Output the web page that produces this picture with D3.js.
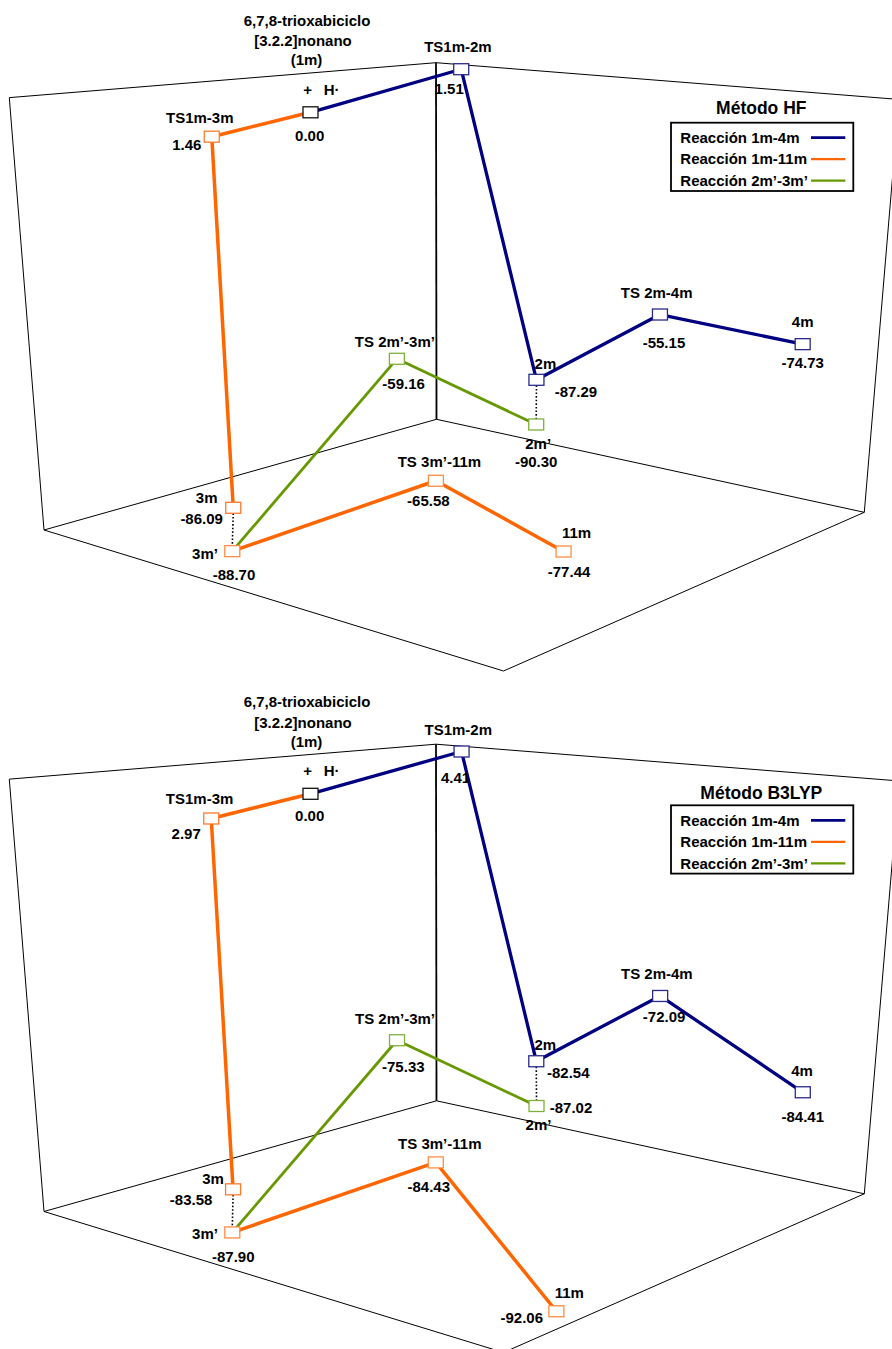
<!DOCTYPE html>
<html>
<head>
<meta charset="utf-8">
<script src="https://cdn.jsdelivr.net/npm/d3@7"></script>
<style>
  html, body { margin: 0; padding: 0; background: #fff; }
  svg { display: block; }
  text { font-family: Arial, "Liberation Sans", sans-serif; font-weight: bold; fill: #000; }
</style>
</head>
<body>
<div id="chart"></div>
<script>
// ---------------------------------------------------------------------------
// Data: relative energies (kcal/mol) of the species on the potential surface
// ---------------------------------------------------------------------------
const species = ["1m", "TS1m-2m", "2m", "TS 2m-4m", "4m", "TS1m-3m", "3m", "3m’",
                 "TS 3m’-11m", "11m", "TS 2m’-3m’", "2m’"];

const hfEnergy    = [0.00, 1.51, -87.29, -55.15, -74.73, 1.46, -86.09, -88.70, -65.58, -77.44, -59.16, -90.30];
const b3lypEnergy = [0.00, 4.41, -82.54, -72.09, -84.41, 2.97, -83.58, -87.90, -84.43, -92.06, -75.33, -87.02];

// Placement of each species on the floor of the 3-D box
// (depth: back corner -> left wall, run: back corner -> right wall)
const hfDepth    = [0.576, -0.155, -0.231, -0.040, -0.555, 0.988, 0.845, 0.966, 0.883, 0.822, 0.470, -0.001];
const hfRun      = [0.231, -0.069,  0.077,  0.518,  0.524, 0.441, 0.298, 0.423, 0.773, 0.964, 0.321,  0.260];
const b3lypDepth = [0.576,  0.052, -0.119, -0.534, -0.302, 1.055, 0.885, 0.977, 0.538, 0.866, 0.093,  0.069];
const b3lypRun   = [0.231,  0.109,  0.165,  0.176,  0.684, 0.513, 0.341, 0.435, 0.470, 0.988, -0.023, 0.316];

// Reaction paths
const seriesNames = ["Reacción 1m-4m", "Reacción 1m-11m", "Reacción 2m’-3m’"];
const pathsBlue   = [["1m", "TS1m-2m", "2m", "TS 2m-4m", "4m"]];
const pathsOrange = [["1m", "TS1m-3m", "3m"], ["3m’", "TS 3m’-11m", "11m"]];
const pathsGreen  = [["3m’", "TS 2m’-3m’", "2m’"]];
const linkedPairs = [["2m", "2m’"], ["3m", "3m’"]];

const methods = ["Método HF", "Método B3LYP"];
const reactantTitle = ["6,7,8-trioxabiciclo", "[3.2.2]nonano", "(1m)"];

// ---------------------------------------------------------------------------
// Styles
// ---------------------------------------------------------------------------
const seriesColor = ["#000080", "#FF6600", "#669900"];
const seriesWidth = [3.3, 3.5, 2.8];
const legendWidth = [2.7, 2.3, 2.3];
const markerStroke = {
  "1m": "#111111",
  "TS1m-2m": "#2A2A8C", "2m": "#2A2A8C", "TS 2m-4m": "#2A2A8C", "4m": "#2A2A8C",
  "TS1m-3m": "#FF7A2A", "3m": "#FF7A2A", "3m’": "#FF8C45", "TS 3m’-11m": "#FF8C45", "11m": "#FF8C45",
  "TS 2m’-3m’": "#7FB03A", "2m’": "#7FB03A"
};

// Perspective camera of the box (world: depth X, height Y, run Z, each 0..1)
const cam = { a: -400.44, q: -29.05, b: 305.02, c: 436.5,
              d: 15.02, s: -360.71, e: 20.22, f: 419.3,
              g: -0.18053, r: -0.06548, h: -0.14206 };
function project(X, Y, Z) {
  const w = cam.g * X + cam.r * Y + cam.h * Z + 1;
  return [(cam.a * X + cam.q * Y + cam.b * Z + cam.c) / w,
          (cam.d * X + cam.s * Y + cam.e * Z + cam.f) / w];
}

// Scales from data space into the box
const yScale = d3.scaleLinear().domain([-95, 5]).range([0, 1]);
const xScale = d3.scaleLinear().domain([0, 1]).range([0, 1]);
const zScale = d3.scaleLinear().domain([0, 1]).range([0, 1]);

const fmt = d3.formatLocale({ decimal: ".", thousands: ",", grouping: [3], currency: ["", ""], minus: "-" }).format(".2f");

// Label placement relative to each marker [dx, dy]
const nameOffsets = [
  { "TS1m-2m": [-3.3, -22.5], "2m": [9, -16], "TS 2m-4m": [-3.3, -22.2], "4m": [0, -22.5],
    "TS1m-3m": [-12, -19.4], "3m": [-26.6, -10.5], "3m’": [-27.3, 2.3], "TS 3m’-11m": [3.5, -19.1],
    "11m": [13, -18.8], "TS 2m’-3m’": [-2, -17.1], "2m’": [2, 19.5] },
  { "TS1m-2m": [-3.3, -22], "2m": [9, -16], "TS 2m-4m": [-3.3, -22.7], "4m": [-0.7, -21.5],
    "TS1m-3m": [-11.6, -20], "3m": [-20, -10.7], "3m’": [-27.3, 1.6], "TS 3m’-11m": [4, -18.8],
    "11m": [13, -18], "TS 2m’-3m’": [-2, -21.7], "2m’": [2, 18.8] }
];
const valueOffsets = [
  { "1m": [-0.8, 23], "TS1m-2m": [-12, 20], "2m": [39.5, 12], "TS 2m-4m": [4, 28.2], "4m": [0, 19],
    "TS1m-3m": [-25, 8.3], "3m": [-31.6, 10.5], "3m’": [1.7, 24], "TS 3m’-11m": [-7.5, 19.9],
    "11m": [5.5, 20.2], "TS 2m’-3m’": [6.7, 25.2], "2m’": [0, 37.2] },
  { "1m": [-0.8, 22], "TS1m-2m": [-6, 26], "2m": [32, 12], "TS 2m-4m": [4, 20.7], "4m": [0, 24],
    "TS1m-3m": [-25, 15], "3m": [-42, 10], "3m’": [1, 24.3], "TS 3m’-11m": [-7, 24.5],
    "11m": [-34.6, 7], "TS 2m’-3m’": [6.3, 26.7], "2m’": [34.5, 2.2] }
];

const panels = [
  { method: methods[0], energy: hfEnergy, depth: hfDepth, run: hfRun, top: 0, legendTop: 122.7, titleY: 107.7 },
  { method: methods[1], energy: b3lypEnergy, depth: b3lypDepth, run: b3lypRun, top: 681.5, legendTop: 123.8, titleY: 111.5 }
];

const svg = d3.select("#chart").append("svg")
  .attr("width", 892).attr("height", 1349)
  .attr("viewBox", "0 0 892 1349");

panels.forEach((p, pi) => {
  const g = svg.append("g").attr("transform", `translate(0,${p.top})`);

  // position of every species in screen space
  const pos = {};
  species.forEach((sp, i) => {
    pos[sp] = project(xScale(p.depth[i]), yScale(p.energy[i]), zScale(p.run[i]));
  });
  const energyOf = {};
  species.forEach((sp, i) => { energyOf[sp] = p.energy[i]; });

  // --- box frame ---------------------------------------------------------
  const edges = [
    [[1, 0, 0], [1, 1, 0]], [[1, 1, 0], [0, 1, 0]],
    [[0, 1, 0], [0, 1, 1]], [[0, 1, 1], [0, 0, 1]],
    [[1, 0, 0], [0, 0, 0]], [[0, 0, 0], [0, 0, 1]],
    [[1, 0, 0], [1, 0, 1]], [[1, 0, 1], [0, 0, 1]]
  ];
  const frame = g.append("g").attr("class", "frame");
  edges.forEach(([s, t]) => {
    const a = project(...s), b = project(...t);
    frame.append("line").attr("x1", a[0]).attr("y1", a[1]).attr("x2", b[0]).attr("y2", b[1])
      .attr("stroke", "#000").attr("stroke-width", 1);
  });
  {
    const a = project(0, 0, 0), b = project(0, 1, 0);
    frame.append("line").attr("x1", a[0]).attr("y1", a[1]).attr("x2", b[0]).attr("y2", b[1])
      .attr("stroke", "#000").attr("stroke-width", 1.8);
  }

  // --- reaction paths ----------------------------------------------------
  const line = d3.line().x(d => pos[d][0]).y(d => pos[d][1]);
  [pathsBlue, pathsOrange, pathsGreen].forEach((paths, si) => {
    g.append("g").selectAll("path").data(paths).join("path")
      .attr("d", line)
      .attr("fill", "none")
      .attr("stroke", seriesColor[si])
      .attr("stroke-width", seriesWidth[si])
      .attr("stroke-linejoin", "round");
  });

  // dotted links between related minima
  g.append("g").selectAll("line").data(linkedPairs).join("line")
    .attr("x1", d => pos[d[0]][0]).attr("y1", d => pos[d[0]][1] + 5.5)
    .attr("x2", d => pos[d[1]][0]).attr("y2", d => pos[d[1]][1] - 5.5)
    .attr("stroke", "#000").attr("stroke-width", 1.6).attr("stroke-dasharray", "1.6,2");

  // --- markers -----------------------------------------------------------
  g.append("g").selectAll("rect").data(species).join("rect")
    .attr("x", d => pos[d][0] - 7.5).attr("y", d => pos[d][1] - 5.5)
    .attr("width", 15).attr("height", 11)
    .attr("fill", "#fff")
    .attr("stroke", d => markerStroke[d]).attr("stroke-width", 1.3);

  // --- labels ------------------------------------------------------------
  const labels = g.append("g").attr("font-size", 15).attr("text-anchor", "middle");
  Object.entries(nameOffsets[pi]).forEach(([sp, [dx, dy]]) => {
    labels.append("text").attr("x", pos[sp][0] + dx).attr("y", pos[sp][1] + dy)
      .attr("dy", "0.35em").text(sp);
  });
  Object.entries(valueOffsets[pi]).forEach(([sp, [dx, dy]]) => {
    labels.append("text").attr("x", pos[sp][0] + dx).attr("y", pos[sp][1] + dy)
      .attr("dy", "0.35em").text(fmt(energyOf[sp]));
  });
  // reactant name and the H atom
  const r0 = pos["1m"];
  const titleDx = [-3.5, -7.5, -4];
  const titleDy = [-91.6, -71.4, -52.3];
  reactantTitle.forEach((t, i) => {
    labels.append("text").attr("x", r0[0] + titleDx[i]).attr("y", r0[1] + titleDy[i])
      .attr("dy", "0.35em").text(t);
  });
  labels.append("text").attr("x", r0[0] - 2.8).attr("y", r0[1] - 23).attr("dy", "0.35em").text("+");
  labels.append("text").attr("x", r0[0] + 21.2).attr("y", r0[1] - 23).attr("dy", "0.35em").text("H·");

  // --- legend ------------------------------------------------------------
  const lg = g.append("g").attr("transform", `translate(671,${p.legendTop})`);
  lg.append("text").attr("x", 90.3).attr("y", p.titleY - p.legendTop).attr("dy", "0.35em")
    .attr("text-anchor", "middle").attr("font-size", 17.5).text(p.method);
  lg.append("rect").attr("x", 0).attr("y", 0).attr("width", 182.3).attr("height", 68.3)
    .attr("fill", "#fff").attr("stroke", "#000").attr("stroke-width", 1.8);
  const rowY = d3.scalePoint().domain(seriesNames).range([15, 58]);
  seriesNames.forEach((name, i) => {
    lg.append("text").attr("x", 9.3).attr("y", rowY(name)).attr("dy", "0.35em")
      .attr("font-size", 15).text(name);
    lg.append("line").attr("x1", 140).attr("x2", 174.3).attr("y1", rowY(name)).attr("y2", rowY(name))
      .attr("stroke", seriesColor[i]).attr("stroke-width", legendWidth[i]);
  });
});
</script>
</body>
</html>
